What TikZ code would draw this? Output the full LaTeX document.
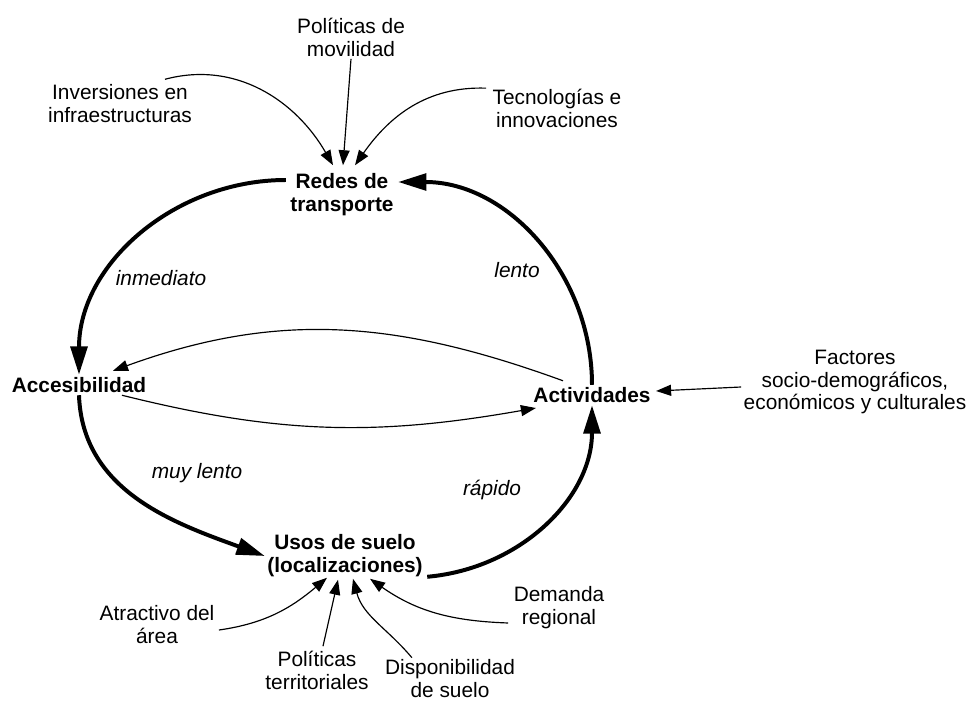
\documentclass[tikz,border=0pt]{standalone}
\usepackage{fontspec}
\setmainfont{Liberation Sans}
\usepackage{tikz}
\usetikzlibrary{arrows,arrows.meta}
\usetikzlibrary{calc,positioning}
\tikzset{>=angle 90}

\begin{document}
\begin{tikzpicture}[x=0.03cm,y=-0.03cm]

	% Definitions.
	\tikzstyle{every node}=[
		font=\fontsize{17.8}{19.6}\selectfont,
		inner sep=2pt,
		align=center
	]
	\tikzstyle{stage}=[font=\fontsize{17.8}{19.6}\selectfont\bfseries]
	\tikzstyle{pace}=[font=\fontsize{17.8}{19.6}\selectfont\itshape]
	\def\bigarrow{Triangle[length=0.85cm,width=0.5cm]};
	\def\smallarrow{Triangle[length=0.45cm,width=0.33cm]};
	\def\CycleWidth{3.4pt};
	\def\LinkWidth{1pt};

	\useasboundingbox (0,0) rectangle (967,702);

	% ---------- Cycle Nodes ---------

	\node[stage] (redes) at (342,195) {Redes de\\transporte};
	\node[stage] (acces) at (79,385) {Accesibilidad};
	\node[stage] (activ) at (592,395) {Actividades};
	\node[stage] (usos) at (345,556) {Usos de suelo\\(localizaciones)};

	% ---------- External Factors ---------

	\node (polmov) at (351,37) {Políticas de\\movilidad};
	\node (inver) at (120,104) {Inversiones en\\infraestructuras};
	\node (tecno) at (557,108) {Tecnologías e\\innovaciones};
	\node (factores) at (855,382) {Factores\\socio-demográficos,\\económicos y culturales};
	\node (atract) at (157,625) {Atractivo del\\área};
	\node (polter) at (317,670) {Políticas\\territoriales};
	\node[inner sep=0pt] (dispo) at (450,679) {Disponibilidad\\de suelo};
	\node (demanda) at (559,608) {Demanda\\regional};

	% ---------- Speeds ---------

	\node[pace] (inmediato) at (161,278) {inmediato};
	\node[pace] (lento) at (517,270) {lento};
	\node[pace] (muylento) at (197,473) {muy lento};
	\node[pace] (rapido) at (492,490) {rápido};

	% ================== CYCLE ==================

	\draw[line width=\CycleWidth, -{\bigarrow}] ($(redes.west)+(-2,-15)$) to[out=180,in=90] (acces.north);
	\draw[line width=\CycleWidth, -{\bigarrow}] (acces.south) to[out=-88,in=160] (usos.west);
	\draw[line width=\CycleWidth, -{\bigarrow}] ($(usos.south east)+(2,-3)$) to[out=5,in=-90] (activ.south);
	\draw[line width=\CycleWidth, -{\bigarrow}] (activ.north) to[out=90,in=0] ($(redes.east)+(2,-13)$);

	% Accessibility <-> activities.
	\draw[line width=\LinkWidth, -{\smallarrow}] ($(activ.north)+(-29,-4)$) to[out=160,in=20] ($(acces.north)+(34,-4)$);
	\draw[line width=\LinkWidth, -{\smallarrow}] ($(acces.south)+(43,0)$) to[out=-14,in=190] ($(activ.west)+(5,13)$);

	% ================== FACTORS ==================

	\draw[line width=\LinkWidth, -{\smallarrow}] ($(factores.west)+(0,5)$) -- ($(activ.east)+(3,-4)$);

	% Top.
	\draw[line width=\LinkWidth, -{\smallarrow}] ($(inver.north)+(45,-3)$) to[out=15,in=120] ($(redes.north)+(-9,-6)$);
	\draw[line width=\LinkWidth, -{\smallarrow}] (polmov.south) -- ($(redes.north)+(1,-6)$);
	\draw[line width=\LinkWidth, -{\smallarrow}] ($(tecno.north west)+(-4,2)$) to[out=178,in=55] ($(redes.north)+(13,-6)$);

	% Bottom.
	\draw[line width=\LinkWidth, -{\smallarrow}] ($(atract.east)+(2,5)$) to[out=8,in=220] ($(usos.south)+(-18,-2)$);
	\draw[line width=\LinkWidth, -{\smallarrow}] ($(polter.north)+(6,-2)$) -- ($(usos.south)+(-7,0)$);
	\draw[line width=\LinkWidth, -{\smallarrow}] ($(dispo.north west)+(27,-2)$) to[out=130,in=-75] ($(usos.south)+(8,-1)$);
	\draw[line width=\LinkWidth, -{\smallarrow}] ($(demanda.west)+(-3,15)$) to[out=178,in=-35] ($(usos.south)+(25,-1)$);

\end{tikzpicture}
\end{document}
